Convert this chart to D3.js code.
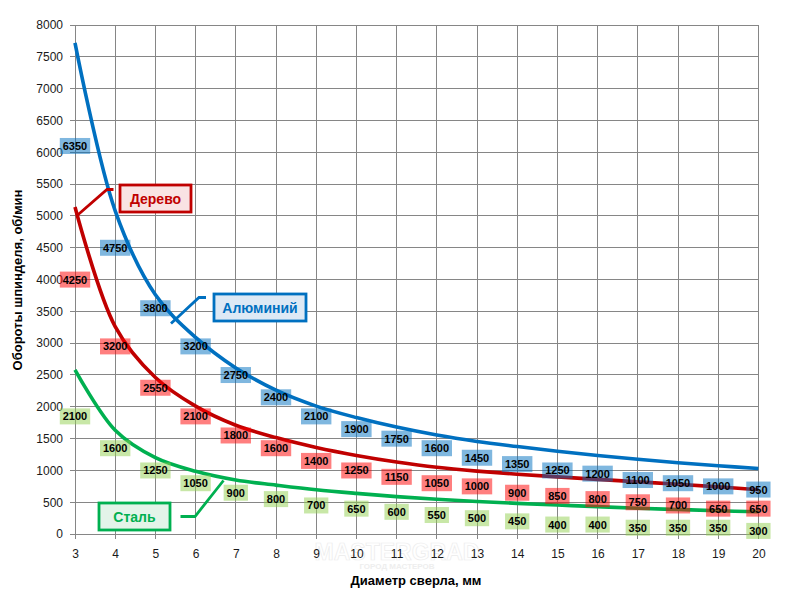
<!DOCTYPE html>
<html><head><meta charset="utf-8">
<script src="https://cdn.jsdelivr.net/npm/d3@7"></script>
<style>body{margin:0;background:#fff}svg{display:block}</style>
</head><body><svg id="c" width="788" height="592"></svg>
<script>
const diameters = [3,4,5,6,7,8,9,10,11,12,13,14,15,16,17,18,19,20];
const yTicks = [0,500,1000,1500,2000,2500,3000,3500,4000,4500,5000,5500,6000,6500,7000,7500,8000];
// data labels (recommended speeds)
const aluminumLabels = [6350,4750,3800,3200,2750,2400,2100,1900,1750,1600,1450,1350,1250,1200,1100,1050,1000,950];
const woodLabels     = [4250,3200,2550,2100,1800,1600,1400,1250,1150,1050,1000,900,850,800,750,700,650,650];
const steelLabels    = [2100,1600,1250,1050,900,800,700,650,600,550,500,450,400,400,350,350,350,300];
// curves as drawn
const aluminumCurve = [7720,5080,3760,3090,2610,2260,2010,1830,1680,1555,1455,1375,1300,1235,1175,1120,1072,1030];
const woodCurve     = [5140,3260,2460,2010,1710,1515,1360,1235,1132,1048,988,940,898,858,820,782,740,695];
const steelCurve    = [2580,1630,1200,985,848,768,695,638,588,546,510,482,456,430,405,385,365,350];
const seriesNames = ["Алюминий","Дерево","Сталь"];
const xTitle = "Диаметр сверла, мм";
const yTitle = "Обороты шпинделя, об/мин";

const svg = d3.select("#c");
const x = d3.scaleLinear().domain([3,20]).range([75,758.4]);
const y = d3.scaleLinear().domain([0,8000]).range([534,25]);
const grid = "#868686";
const font = "'Liberation Sans', Arial, sans-serif";

// watermark (behind everything, very faint)
svg.append("text").attr("x",397).attr("y",560).attr("text-anchor","middle")
  .attr("font-family",font).attr("font-weight","bold").attr("font-size",23)
  .attr("fill","#ffffff").attr("stroke","#ececec").attr("stroke-width",0.7).text("MASTERGRAD");
svg.append("text").attr("x",397).attr("y",569).attr("text-anchor","middle")
  .attr("font-family",font).attr("font-weight","bold").attr("font-size",8)
  .attr("fill","#eeeeee").text("ГОРОД МАСТЕРОВ");

// gridlines
svg.append("g").selectAll("line").data(yTicks).join("line")
  .attr("x1",70).attr("x2",x(20)).attr("y1",d=>y(d)).attr("y2",d=>y(d))
  .attr("stroke",grid).attr("stroke-width",1).attr("shape-rendering","crispEdges");
svg.append("g").selectAll("line").data(diameters).join("line")
  .attr("x1",d=>x(d)).attr("x2",d=>x(d)).attr("y1",y(8000)).attr("y2",539)
  .attr("stroke",grid).attr("stroke-width",1).attr("shape-rendering","crispEdges");

// axes labels
const yAxis = d3.axisLeft(y).tickValues(yTicks).tickSize(0).tickPadding(12).tickFormat(d3.format("d"));
const gy = svg.append("g").attr("transform","translate(75,0)").call(yAxis);
gy.select(".domain").remove();
gy.selectAll("text").attr("font-family",font).attr("font-size",12).attr("fill","#1a1a1a");
const xAxis = d3.axisBottom(x).tickValues(diameters).tickSize(0).tickPadding(15).tickFormat(d3.format("d"));
const gx = svg.append("g").attr("transform","translate(0,534)").call(xAxis);
gx.select(".domain").remove();
gx.selectAll("text").attr("font-family",font).attr("font-size",12).attr("fill","#1a1a1a");

// titles
svg.append("text").attr("x",416).attr("y",585).attr("text-anchor","middle")
  .attr("font-family",font).attr("font-weight","bold").attr("font-size",13).attr("fill","#000").text(xTitle);
svg.append("text").attr("transform","translate(22,280) rotate(-90)").attr("text-anchor","middle")
  .attr("font-family",font).attr("font-weight","bold").attr("font-size",13).attr("fill","#000").text(yTitle);

const series = [
  {name:seriesNames[0], curve:aluminumCurve, labels:aluminumLabels, line:"#0070c0", fill:"#0070c0", box:"#dde9f5"},
  {name:seriesNames[1], curve:woodCurve, labels:woodLabels, line:"#c00000", fill:"#ff0000", box:"#f9e3e3"},
  {name:seriesNames[2], curve:steelCurve, labels:steelLabels, line:"#00b050", fill:"#92d050", box:"#e3f4e9"}
];

const lineGen = d3.line().x((d,i)=>x(diameters[i])).y(d=>y(d)).curve(d3.curveCatmullRom.alpha(0.5));
series.forEach(s=>{
  svg.append("path").attr("d",lineGen(s.curve)).attr("fill","none")
    .attr("stroke",s.line).attr("stroke-width",3.6).attr("stroke-linecap","butt");
});

// data labels
series.forEach(s=>{
  const g = svg.append("g");
  s.labels.forEach((v,i)=>{
    const cx = x(diameters[i]), cy = y(v)+16;
    const t = String(v);
    const w = t.length*6.1+6;
    g.append("rect").attr("x",cx-w/2).attr("y",cy-8).attr("width",w).attr("height",16)
      .attr("fill",s.fill).attr("fill-opacity",0.5);
    g.append("text").attr("x",cx).attr("y",cy+4).attr("text-anchor","middle")
      .attr("font-family",font).attr("font-weight","bold").attr("font-size",11).attr("fill","#000").text(t);
  });
});

// callouts
function callout(s, bx, by, bw, bh, pts){
  svg.append("path").attr("d",d3.line()(pts)).attr("fill","none").attr("stroke",s.line).attr("stroke-width",2.8);
  svg.append("rect").attr("x",bx).attr("y",by).attr("width",bw).attr("height",bh)
    .attr("fill",s.box).attr("stroke",s.line).attr("stroke-width",2.8);
  svg.append("text").attr("x",bx+bw/2).attr("y",by+bh/2+5).attr("text-anchor","middle")
    .attr("font-family",font).attr("font-weight","bold").attr("font-size",14).attr("fill",s.line).text(s.name);
}
callout(series[1],120,185,71,27,[[113.5,189.5],[107,189.5],[76.5,216]]);
callout(series[0],214,294,92,27,[[206,297.5],[199,297.5],[171,323.5]]);
callout(series[2],99,503,71,27,[[180.5,516.5],[195,516.5],[223.5,480.5]]);
</script></body></html>
